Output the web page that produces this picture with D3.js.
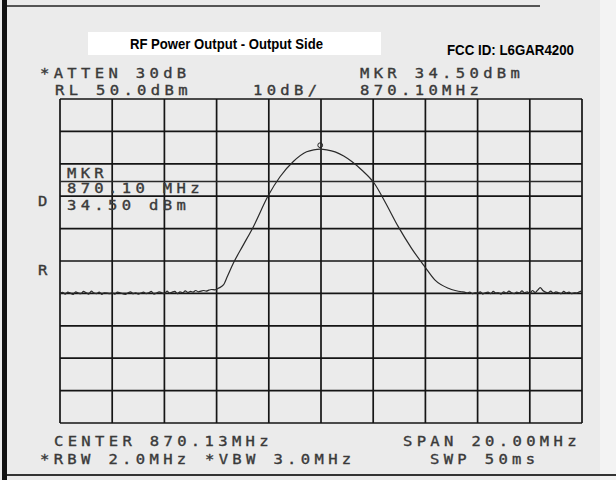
<!DOCTYPE html>
<html><head><meta charset="utf-8">
<script src="https://cdn.jsdelivr.net/npm/d3@7"></script>
<style>
html,body{margin:0;padding:0;background:#ebebeb;}
svg{display:block;}
</style></head>
<body>
<script>
// ---- data ----
const startMHz = 860.13, stopMHz = 880.13;       // CENTER 870.13, SPAN 20 MHz
const refLevel = 50, dbPerDiv = 10, vDivs = 10, hDivs = 10;
const markerMHz = 870.10, markerDbm = 34.50;

const noiseLeftStart = 860.13, noiseStep = 0.1;
const noiseLeft = [-10.0,-9.7,-10.2,-9.6,-9.9,-10.3,-9.5,-9.9,-10.1,-9.4,
  -9.8,-10.2,-9.3,-9.9,-10.1,-9.6,-10.3,-9.8,-9.9,-10.1,
  -9.8,-10.2,-9.6,-9.8,-10.1,-10.3,-9.9,-9.5,-10.1,-9.8,
  -10.2,-9.9,-9.6,-10.1,-9.8,-9.4,-10.2,-9.9,-9.5,-9.8,
  -10.1,-9.3,-9.9,-9.6,-9.4,-10.1,-9.5,-9.8,-9.2,-9.7,
  -9.4,-9.6,-9.1,-9.5,-9.3,-9.1,-9.3,-9.0,-8.8];
const curveMHz = [866.07,866.20,866.39,866.55,866.77,867.15,867.54,868.11,868.56,869.07,869.58,869.85,870.10,
  870.35,870.67,871.00,871.31,871.69,872.17,872.58,873.09,873.60,874.11,874.50,875.01,875.27,875.52];
const curveDbm = [-8.9,-8.4,-7.4,-4.6,-0.7,4.9,10.6,20.2,26.0,30.7,33.7,34.3,34.5,
  34.3,33.7,32.4,30.7,28.1,24.0,18.3,10.6,3.9,-1.8,-5.9,-8.4,-9.1,-9.5];
const noiseRightStart = 875.63;
const noiseRight = [-9.6,-9.9,-9.6,-10.1,-9.8,-9.9,-9.5,-10.2,-9.8,-9.6,
  -10.1,-9.4,-9.9,-9.8,-10.2,-9.5,-9.9,-9.3,-9.8,-10.1,
  -9.6,-9.9,-9.2,-9.8,-9.5,-10.1,-9.1,-9.7,-9.0,-8.2,
  -9.1,-9.6,-9.8,-9.3,-9.9,-9.5,-9.8,-10.1,-9.4,-9.9,
  -9.6,-10.1,-9.8,-9.9,-9.5,-9.2];

const title = "RF Power Output - Output Side";
const fccId = "FCC ID: L6GAR4200";
const headerTop = ["*ATTEN 30dB", "MKR 34.50dBm"];
const headerBottom = ["RL 50.0dBm", "10dB/", "870.10MHz"];
const footerTop = ["CENTER 870.13MHz", "SPAN 20.00MHz"];
const footerBottom = ["*RBW 2.0MHz", "*VBW 3.0MHz", "SWP 50ms"];
const markerBox = ["MKR", "870.10 MHz", "34.50 dBm"];

// ---- build trace table ----
const trace = [];
noiseLeft.forEach((v,i)=>trace.push([noiseLeftStart + i*noiseStep, v]));
curveMHz.forEach((f,i)=>trace.push([f, curveDbm[i]]));
noiseRight.forEach((v,i)=>trace.push([Math.min(stopMHz, noiseRightStart + i*noiseStep), v]));

const W = 616, H = 480;
const svg = d3.select("body").append("svg").attr("width", W).attr("height", H);
svg.append("rect").attr("width", W).attr("height", H).attr("fill", "#ebebeb");
svg.append("rect").attr("x", 600).attr("width", 16).attr("height", H).attr("fill", "#f3f3f3");

// paper edges
svg.append("rect").attr("x", 2).attr("y", 0).attr("width", 5).attr("height", H).attr("fill", "#111");
svg.append("line").attr("x1", 7).attr("x2", 540).attr("y1", 6).attr("y2", 6).attr("stroke", "#555").attr("stroke-width", 2);
svg.append("line").attr("x1", 7).attr("x2", 616).attr("y1", 475).attr("y2", 475).attr("stroke", "#333").attr("stroke-width", 2);

const x = d3.scaleLinear().domain([startMHz, stopMHz]).range([60, 582]);
const y = d3.scaleLinear().domain([refLevel - dbPerDiv*vDivs, refLevel]).range([423, 99]);

// grid
const g = svg.append("g");
const xt = d3.range(hDivs + 1).map(i => startMHz + i*(stopMHz-startMHz)/hDivs);
const yt = d3.range(vDivs + 1).map(i => refLevel - i*dbPerDiv);
g.selectAll(".v").data(xt).join("line")
  .attr("x1", d=>x(d)).attr("x2", d=>x(d)).attr("y1", y(refLevel)).attr("y2", y(refLevel-dbPerDiv*vDivs))
  .attr("stroke", "#151515").attr("stroke-width", 1.7);
g.selectAll(".h").data(yt).join("line")
  .attr("x1", x(startMHz)).attr("x2", x(stopMHz)).attr("y1", d=>y(d)).attr("y2", d=>y(d))
  .attr("stroke", "#151515").attr("stroke-width", 1.7);
// marker readout separator line
g.append("line").attr("x1", x(startMHz)).attr("x2", x(stopMHz)).attr("y1", 181.5).attr("y2", 181.5)
  .attr("stroke", "#2a2a2a").attr("stroke-width", 1.4);

// trace
svg.append("path").datum(trace)
  .attr("d", d3.line().x(d=>x(d[0])).y(d=>y(d[1])).curve(d3.curveMonotoneX))
  .attr("fill", "none").attr("stroke", "#2a2a2a").attr("stroke-width", 1.2);

// marker
svg.append("circle").attr("cx", x(markerMHz)).attr("cy", y(markerDbm) - 4).attr("r", 2.4)
  .attr("fill", "none").attr("stroke", "#222").attr("stroke-width", 1);

// analyzer-style text
function atext(str, px, py) {
  svg.append("text").text(str)
    .attr("transform", `translate(${px},${py}) scale(1.15,1)`)
    .attr("font-family", "DejaVu Sans Mono, monospace").attr("font-size", 13.5)
    .attr("letter-spacing", 3.78).attr("fill", "#3a3a3a")
    .attr("stroke", "#3a3a3a").attr("stroke-width", 0.35);
}
atext(headerTop[0], 40, 78);
atext(headerTop[1], 360, 78);
atext(headerBottom[0], 55, 95);
atext(headerBottom[1], 253, 95);
atext(headerBottom[2], 360, 95);
atext(footerTop[0], 54, 446);
atext(footerTop[1], 403, 446);
atext(footerBottom[0], 40, 464);
atext(footerBottom[1], 205, 464);
atext(footerBottom[2], 430, 464);
atext(markerBox[0], 67, 178);
atext(markerBox[1], 67, 193);
atext(markerBox[2], 67, 210);
atext("D", 38, 206);
atext("R", 38, 275);

// title box
svg.append("rect").attr("x", 88).attr("y", 32).attr("width", 293).attr("height", 23).attr("fill", "#ffffff");
svg.append("text").text(title).attr("x", 130).attr("y", 49)
  .attr("textLength", 193).attr("lengthAdjust", "spacingAndGlyphs")
  .attr("font-family", "Liberation Sans, Arial, sans-serif")
  .attr("font-weight", "bold").attr("font-size", 15).attr("fill", "#000");
svg.append("text").text(fccId).attr("x", 447).attr("y", 55)
  .attr("textLength", 127).attr("lengthAdjust", "spacingAndGlyphs")
  .attr("font-family", "Liberation Sans, Arial, sans-serif")
  .attr("font-weight", "bold").attr("font-size", 14.5).attr("fill", "#000");
</script>
</body></html>
